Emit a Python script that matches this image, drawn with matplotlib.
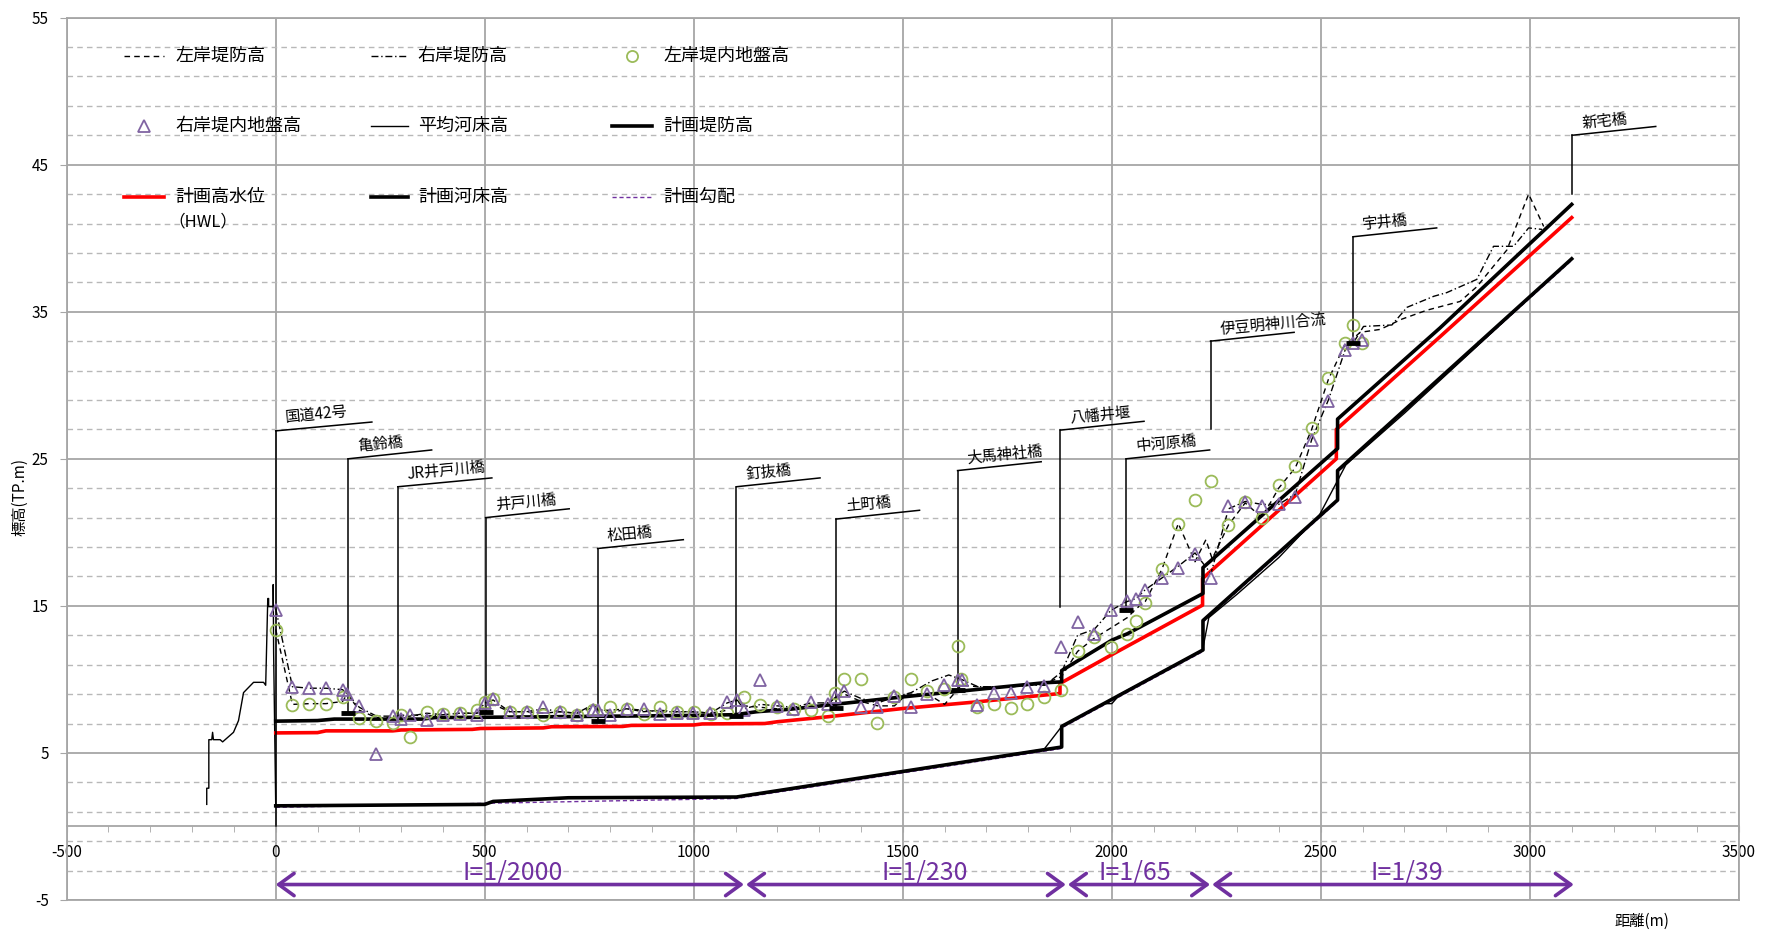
import numpy as np
import matplotlib
matplotlib.use("Agg")
import matplotlib.pyplot as plt
from matplotlib.ticker import MultipleLocator, FixedLocator

plt.rcParams['font.family'] = ['Noto Sans CJK JP', 'DejaVu Sans']
plt.rcParams['axes.unicode_minus'] = False

# --- longitudinal profile data: distance (m) / elevation (TP.m) ---
levL_x = [0, 40, 80, 120, 160, 171, 200, 241, 281, 321,
          361, 401, 441, 481, 500, 520, 560, 600, 640, 680,
          720, 760, 772, 800, 840, 880, 920, 960, 1000, 1040,
          1080, 1103, 1120, 1160, 1200, 1240, 1280, 1320, 1340, 1360,
          1400, 1440, 1480, 1510, 1560, 1600, 1640, 1680, 1720, 1760,
          1800, 1840, 1880, 1918, 1958, 1998, 2037, 2058, 2080, 2120,
          2159, 2199, 2225, 2240, 2279, 2319, 2359, 2399, 2439, 2478,
          2518, 2558, 2578, 2594, 2642, 2694, 2753, 2833, 2873, 2913,
          2945, 2997, 3033]
levL_y = [13.4, 8.3, 8.35, 8.35, 8.5, 9.0, 7.9, 7.4, 7.4, 7.5,
          7.7, 7.6, 7.7, 7.7, 8.0, 8.3, 7.8, 7.8, 7.7, 7.8,
          7.7, 8.1, 7.9, 7.9, 8.0, 7.8, 7.9, 7.8, 7.8, 7.7,
          7.9, 8.6, 8.2, 8.1, 8.0, 8.0, 8.1, 8.3, 8.8, 9.0,
          8.5, 8.2, 8.2, 9.0, 9.0, 8.3, 9.6, 9.5, 9.5, 9.5,
          9.6, 9.7, 10.2, 11.9, 12.8, 13.5, 14.2, 14.8, 15.3, 17.5,
          20.6, 18.0, 19.5, 18.2, 20.5, 22.0, 21.0, 23.0, 24.4, 27.0,
          30.4, 32.8, 33.2, 33.6, 33.8, 34.5, 35.1, 35.7, 36.7, 38.1,
          39.2, 43.0, 40.8]

levR_x = [0, 40, 80, 120, 160, 171, 200, 241, 281, 321,
          361, 401, 441, 481, 500, 520, 560, 600, 640, 680,
          720, 760, 772, 800, 840, 880, 920, 960, 1000, 1040,
          1080, 1103, 1120, 1160, 1200, 1240, 1280, 1320, 1340, 1360,
          1400, 1440, 1480, 1520, 1570, 1610, 1640, 1680, 1720, 1760,
          1800, 1840, 1880, 1918, 1958, 1998, 2037, 2058, 2080, 2120,
          2159, 2199, 2237, 2279, 2319, 2359, 2399, 2439, 2478, 2518,
          2558, 2578, 2602, 2670, 2706, 2770, 2801, 2873, 2913, 2961,
          2997, 3029]
levR_y = [14.8, 9.5, 9.4, 9.4, 9.3, 9.0, 8.1, 7.5, 7.5, 7.6,
          7.5, 7.6, 7.7, 7.7, 8.4, 8.6, 7.8, 7.8, 8.0, 7.8,
          7.7, 8.3, 8.0, 7.7, 8.0, 7.9, 7.8, 7.8, 7.8, 7.7,
          8.4, 8.6, 8.0, 8.3, 8.2, 8.1, 8.4, 8.4, 8.8, 9.2,
          8.7, 8.4, 8.8, 9.1, 9.9, 10.3, 10.0, 9.5, 9.5, 9.5,
          9.6, 9.6, 10.5, 13.0, 13.4, 14.7, 15.3, 15.5, 16.1, 16.9,
          17.7, 18.6, 17.2, 21.6, 22.1, 21.9, 21.9, 22.6, 26.3, 29.0,
          32.4, 32.9, 34.0, 34.1, 35.3, 36.05, 36.3, 37.2, 39.45, 39.45,
          40.7, 40.6]

gndL_x = [0, 40, 80, 120, 160, 200, 241, 281, 299, 321,
          361, 401, 441, 481, 500, 520, 560, 600, 640, 680,
          720, 760, 800, 840, 880, 920, 960, 1000, 1040, 1079,
          1119, 1158, 1200, 1240, 1280, 1320, 1338, 1360, 1399, 1439,
          1479, 1519, 1559, 1599, 1631, 1639, 1678, 1718, 1758, 1798,
          1838, 1878, 1918, 1958, 1998, 2037, 2058, 2080, 2120, 2159,
          2199, 2237, 2279, 2319, 2359, 2399, 2439, 2478, 2518, 2558,
          2577, 2598]
gndL_y = [13.35, 8.29, 8.36, 8.36, 8.8, 7.38, 7.2, 7.04, 7.57, 6.09,
          7.79, 7.63, 7.72, 7.9, 8.47, 8.7, 7.79, 7.79, 7.57, 7.79,
          7.57, 7.9, 8.13, 7.97, 7.68, 8.13, 7.75, 7.79, 7.68, 7.7,
          8.8, 8.29, 8.13, 7.97, 7.95, 7.5, 9.1, 10.0, 10.0, 7.05,
          8.8, 10.0, 9.2, 9.38, 12.26, 10.06, 8.13, 8.31, 8.06, 8.36,
          8.8, 9.27, 11.9, 12.85, 12.17, 13.1, 14.0, 15.2, 17.5, 20.6,
          22.2, 23.5, 20.5, 22.06, 21.0, 23.2, 24.5, 27.1, 30.5, 32.85,
          34.1, 32.85]

gndR_x = [0, 40, 80, 120, 160, 171, 200, 241, 281, 299,
          321, 361, 401, 441, 481, 500, 520, 560, 600, 640,
          680, 720, 760, 772, 800, 840, 880, 920, 960, 999,
          1039, 1079, 1103, 1119, 1158, 1198, 1238, 1280, 1320, 1338,
          1360, 1399, 1439, 1479, 1519, 1559, 1599, 1631, 1641, 1678,
          1718, 1758, 1798, 1838, 1878, 1918, 1958, 1998, 2036, 2058,
          2080, 2120, 2159, 2199, 2237, 2279, 2319, 2359, 2399, 2439,
          2478, 2518, 2558, 2578, 2598]
gndR_y = [14.75, 9.5, 9.4, 9.4, 9.3, 9.0, 8.18, 4.96, 7.5, 7.34,
          7.6, 7.27, 7.57, 7.68, 7.6, 8.4, 8.7, 7.79, 7.75, 8.13,
          7.75, 7.6, 7.9, 7.9, 7.57, 8.0, 8.0, 7.68, 7.7, 7.7,
          7.7, 8.47, 8.6, 7.9, 9.99, 8.2, 7.97, 8.47, 8.36, 8.77,
          9.2, 8.09, 8.09, 8.86, 8.13, 9.04, 9.65, 9.95, 9.99, 8.25,
          9.09, 9.09, 9.49, 9.54, 12.2, 13.9, 13.1, 14.7, 15.3, 15.5,
          16.1, 16.9, 17.6, 18.56, 16.9, 21.8, 22.06, 21.8, 21.9, 22.4,
          26.3, 28.9, 32.4, 32.85, 33.1]

bedavg_x = [-165, -165, -160, -160, -153, -151, -149, -133, -127, -101,
            -89, -77, -53, -29, -24, -19, -17, -17, -6, -6,
            -5, 0, 500, 520, 700, 1102, 1838, 1880, 1980, 2000,
            2020, 2217, 2232, 2300, 2400, 2497, 2560, 2700, 3100]
bedavg_y = [1.5, 2.6, 2.6, 5.9, 5.9, 6.4, 5.9, 5.9, 5.75, 6.4,
            7.2, 9.1, 9.8, 9.8, 9.6, 15.5, 15.5, 14.95, 14.95, 16.45,
            11.8, 1.4, 1.5, 1.7, 1.95, 2.0, 5.25, 6.8, 8.35, 8.35,
            9.0, 12.0, 14.2, 15.8, 18.3, 21.2, 24.6, 28.1, 38.6]

plan_levee_x = [0, 100, 140, 350, 380, 620, 1000, 1100, 1150, 1230, 1500,
                1838, 1880, 1880, 2000, 2037, 2218, 2218, 2540, 2540, 2785, 3100]
plan_levee_y = [7.16, 7.2, 7.3, 7.3, 7.4, 7.45, 7.55, 7.6, 7.8, 7.97, 8.81,
                9.77, 9.83, 10.6, 12.67, 13.1, 15.84, 17.6, 25.7, 27.7, 33.9, 42.3]

hwl_x = [0, 100, 120, 280, 300, 470, 490, 640, 660, 830, 850, 1000, 1020, 1170,
         1200, 1318, 1500, 1677, 1876, 1876, 1998, 2217, 2217, 2537, 2537, 2785, 3100]
hwl_y = [6.36, 6.38, 6.5, 6.5, 6.56, 6.6, 6.66, 6.7, 6.78, 6.8, 6.87, 6.9, 6.97, 7.0,
         7.12, 7.45, 8.02, 8.47, 9.04, 9.72, 11.65, 15.05, 16.86, 25.0, 27.0, 33.3, 41.4]

plan_bed_x = [0, 500, 520, 700, 1102, 1880, 1880, 2218, 2218, 2540, 2540, 3100]
plan_bed_y = [1.4, 1.5, 1.7, 1.95, 2.0, 5.4, 6.8, 12.0, 14.0, 22.2, 24.2, 38.6]

grade_x = [0, 1102, 1880, 1880, 2218, 2218, 2540, 2540, 3100]
grade_y = [1.3, 1.9, 5.3, 6.7, 11.9, 13.9, 22.1, 24.1, 38.5]

# bridges / structures
bridge_names = ['国道42号', '亀鈴橋', 'JR井戸川橋', '井戸川橋', '松田橋', '釘抜橋', '土町橋',
                '大馬神社橋', '八幡井堰', '中河原橋', '伊豆明神川合流', '宇井橋', '新宅橋']
bridge_x = [0, 173, 292, 502, 770, 1102, 1340, 1631, 1877, 2034, 2236, 2577, 3101]
leader_bot = [0, 7.7, 7.45, 7.8, 7.15, 7.5, 8.05, 9.3, 14.95, 14.75, 27.0, 32.9, 43.0]
leader_top = [26.9, 25.0, 23.1, 21.0, 18.9, 23.1, 20.9, 24.2, 26.95, 25.0, 33.0, 40.1, 47.0]
leader_len = [230, 200, 225, 200, 205, 200, 200, 200, 200, 200, 200, 200, 200]

deck_x = [173, 502, 770, 1102, 1340, 1631, 2034, 2577]
deck_y = [7.7, 7.8, 7.15, 7.5, 8.05, 9.3, 14.75, 32.9]

# planned gradient sections
sec_start = [0, 1125, 1895, 2240]
sec_end = [1120, 1890, 2235, 3105]
sec_label = ['I=1/2000', 'I=1/230', 'I=1/65', 'I=1/39']
sec_label_x = [566, 1552, 2055, 2706]

PURPLE = '#7030A0'
TRI = '#8064A2'
CIRC = '#9BBB59'
GRID = '#a6a6a6'

fig = plt.figure(figsize=(17.69, 9.33), dpi=100)
ax = fig.add_axes([0.0377, 0.0354, 0.9453, 0.9457])
ax.set_xlim(-500, 3500)
ax.set_ylim(-5, 55)

ax.xaxis.set_major_locator(MultipleLocator(500))
ax.xaxis.set_minor_locator(MultipleLocator(100))
ax.yaxis.set_major_locator(FixedLocator(np.arange(-5, 56, 10)))
ax.yaxis.set_minor_locator(FixedLocator(np.arange(-3, 55, 2)))
ax.set_axisbelow(True)
ax.grid(which='major', color=GRID, lw=1.3)
ax.grid(which='minor', axis='y', color='#b8b8b8', lw=1.0, ls=(0, (4, 3)))
ax.axhline(-5, color=GRID, lw=1.3, clip_on=False, zorder=0.5)

for s in ['left', 'right', 'top']:
    ax.spines[s].set_color(GRID)
    ax.spines[s].set_linewidth(1.3)
ax.spines['bottom'].set_position(('data', 0))
ax.spines['bottom'].set_color(GRID)
ax.spines['bottom'].set_linewidth(1.3)

ax.tick_params(axis='x', which='both', direction='out', length=4, color=GRID,
               labelsize=11, pad=9)
ax.tick_params(axis='y', which='major', direction='out', length=5, color=GRID,
               labelsize=11, pad=8)
ax.tick_params(axis='y', which='minor', length=0)

# bed, water level and levee lines
ax.plot(grade_x, grade_y, color=PURPLE, lw=1.0, ls=(0, (3, 2)), zorder=2)
ax.plot(bedavg_x, bedavg_y, color='black', lw=1.0, zorder=3)
ax.plot(plan_bed_x, plan_bed_y, color='black', lw=2.6, zorder=3)
ax.plot(hwl_x, hwl_y, color='#ff0000', lw=2.6, zorder=3)
ax.plot(plan_levee_x, plan_levee_y, color='black', lw=2.6, zorder=3)
ax.plot(levL_x, levL_y, color='black', lw=1.0, ls=(0, (4, 3)), zorder=4)
ax.plot(levR_x, levR_y, color='black', lw=1.0, ls=(0, (5, 2, 1, 2)), zorder=4)

ax.plot(gndL_x, gndL_y, ls='none', marker='o', ms=8.5, mfc='none', mec=CIRC,
        mew=1.3, zorder=5)
ax.plot(gndR_x, gndR_y, ls='none', marker='^', ms=9, mfc='none', mec=TRI,
        mew=1.3, zorder=5)

# bridge leaders and labels
for name, bx, b0, b1, ln in zip(bridge_names, bridge_x, leader_bot, leader_top, leader_len):
    ax.plot([bx, bx], [b0, b1], color='black', lw=1.1, zorder=4)
    ax.plot([bx, bx + ln], [b1, b1 + 0.6], color='black', lw=1.1, zorder=4)
    ax.text(bx + 25, b1 + 0.25, name, rotation=5.5, rotation_mode='anchor',
            ha='left', va='bottom', fontsize=11, zorder=6)
ax.plot(deck_x, deck_y, ls='none', marker='_', ms=10, mew=3.5, color='black', zorder=6)

# gradient section arrows
for x0, x1, lab, lx in zip(sec_start, sec_end, sec_label, sec_label_x):
    ax.annotate('', xy=(x1, -3.95), xytext=(x0, -3.95),
                arrowprops=dict(arrowstyle='<->,head_length=0.55,head_width=0.4',
                                color=PURPLE, lw=2.6, shrinkA=0, shrinkB=0,
                                mutation_scale=20))
    ax.text(lx, -3.1, lab, color=PURPLE, fontsize=18, ha='center', va='center')

# legend laid out in three columns inside the plot area
T = ax.transAxes
rows = [0.957, 0.877, 0.797]
cols = [(0.0345, 0.058, 0.065), (0.182, 0.204, 0.21), (0.326, 0.35, 0.357)]
entries = [
    (0, 0, dict(color='black', lw=1.0, ls=(0, (4, 3))), None, '左岸堤防高'),
    (0, 1, dict(color='black', lw=1.0, ls=(0, (5, 2, 1, 2))), None, '右岸堤防高'),
    (0, 2, None, ('o', CIRC), '左岸堤内地盤高'),
    (1, 0, None, ('^', TRI), '右岸堤内地盤高'),
    (1, 1, dict(color='black', lw=1.0), None, '平均河床高'),
    (1, 2, dict(color='black', lw=2.6), None, '計画堤防高'),
    (2, 0, dict(color='#ff0000', lw=2.6), None, '計画高水位'),
    (2, 1, dict(color='black', lw=2.6), None, '計画河床高'),
    (2, 2, dict(color=PURPLE, lw=1.0, ls=(0, (3, 2))), None, '計画勾配'),
]
for r, c, lstyle, mk, lab in entries:
    x0, x1, xt = cols[c]
    y = rows[r]
    if lstyle is not None:
        ax.plot([x0, x1], [y, y], transform=T, **lstyle)
    else:
        ax.plot([(x0 + x1) / 2], [y], transform=T, ls='none', marker=mk[0],
                ms=8 if mk[0] == 'o' else 9, mfc='none', mec=mk[1], mew=1.3)
    ax.text(xt, y, lab, transform=T, fontsize=13, ha='left', va='center')
ax.text(cols[0][2] - 0.004, 0.768, '（HWL）', transform=T, fontsize=12,
        ha='left', va='center')

fig.text(0.011, 0.467, '標高(TP.m)', rotation=90, ha='center', va='center', fontsize=11)
fig.text(0.928, 0.012, '距離(m)', ha='center', va='center', fontsize=11)

fig.savefig('out.png', dpi=100)
